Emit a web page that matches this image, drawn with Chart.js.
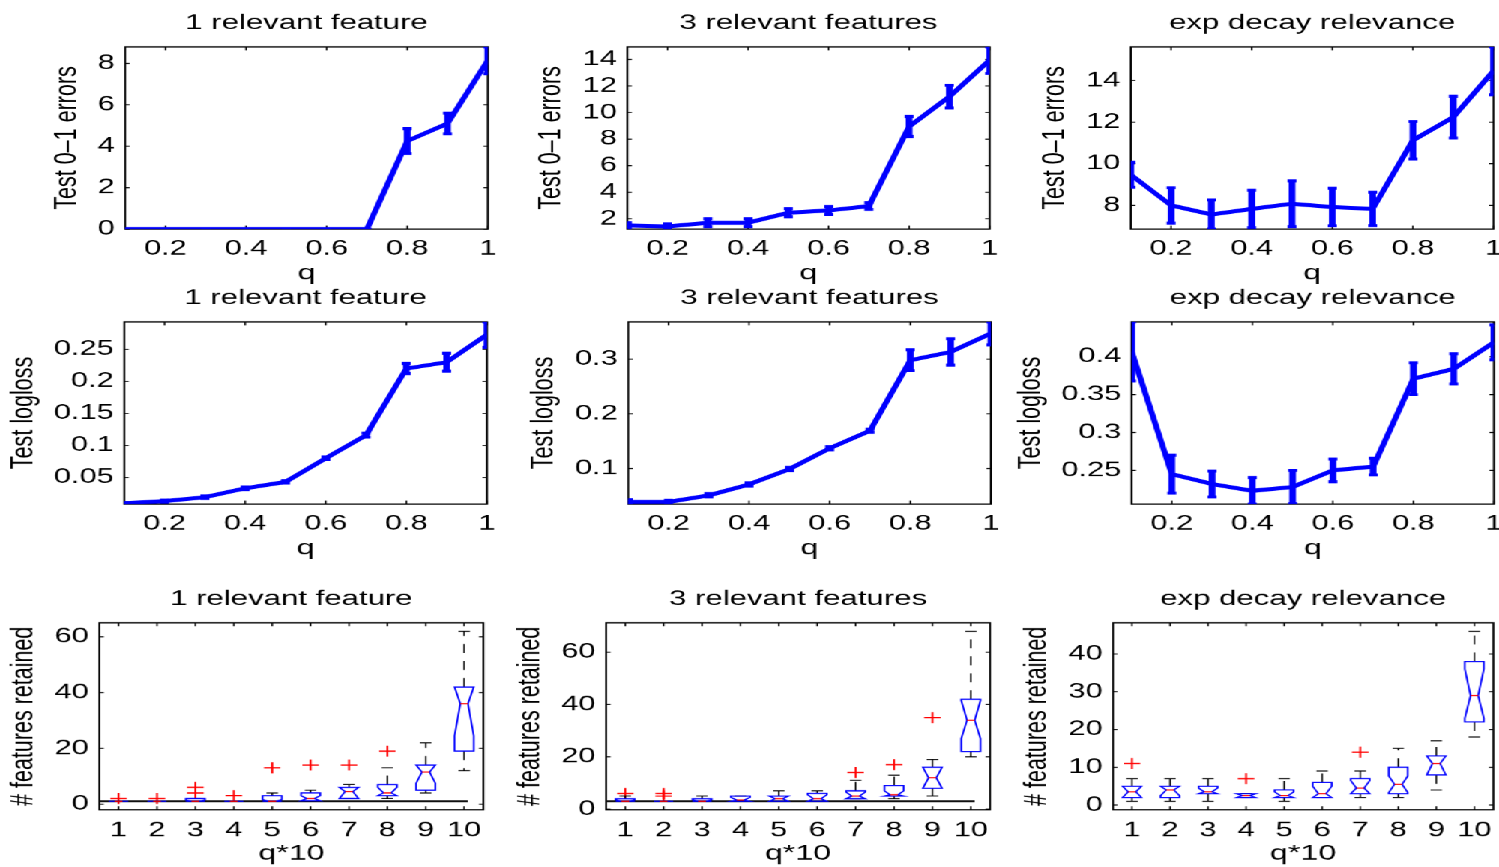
<!DOCTYPE html>
<html>
<head>
<meta charset="utf-8">
<script src="https://cdn.jsdelivr.net/npm/chart.js@4.4.0/dist/chart.umd.min.js"></script>
<style>
  html, body { margin: 0; padding: 0; background: #fff; overflow: hidden; }
  #stage { position: absolute; left: 0; top: 0; width: 1000px; height: 867px; transform-origin: 0 0; transform: scaleX(1.499); }
  #stage canvas { position: absolute; }
</style>
</head>
<body>
<div id="stage"></div>
<script>
// ---- data ----
const qValues = [0.1, 0.2, 0.3, 0.4, 0.5, 0.6, 0.7, 0.8, 0.9, 1.0];
const qTicks = [0.2, 0.4, 0.6, 0.8, 1];

// test 0-1 errors (mean, error bar half length)
const errOneMean = [0, 0, 0, 0, 0, 0, 0, 4.25, 5.1, 8.15];
const errOneSd = [0, 0, 0, 0, 0, 0, 0, 0.6, 0.5, 0.65];
const errThreeMean = [1.5, 1.42, 1.7, 1.7, 2.45, 2.62, 2.95, 8.95, 11.2, 13.95];
const errThreeSd = [0.2, 0.2, 0.3, 0.3, 0.3, 0.3, 0.25, 0.75, 0.85, 1.0];
const errExpMean = [9.47, 8.0, 7.56, 7.83, 8.08, 7.92, 7.83, 11.13, 12.24, 14.47];
const errExpSd = [0.6, 0.85, 0.7, 0.9, 1.1, 0.9, 0.8, 0.9, 1.0, 1.15];
const errOneTicks = [0, 2, 4, 6, 8];
const errThreeTicks = [2, 4, 6, 8, 10, 12, 14];
const errExpTicks = [8, 10, 12, 14];

// test logloss
const lossOneMean = [0.0095, 0.013, 0.019, 0.033, 0.043, 0.080, 0.116, 0.220, 0.230, 0.273];
const lossOneSd = [0.0012, 0.0015, 0.002, 0.002, 0.002, 0.002, 0.003, 0.008, 0.014, 0.02];
const lossThreeMean = [0.039, 0.039, 0.051, 0.071, 0.099, 0.137, 0.169, 0.298, 0.313, 0.347];
const lossThreeSd = [0.004, 0.003, 0.003, 0.003, 0.003, 0.003, 0.003, 0.019, 0.024, 0.021];
const lossExpMean = [0.407, 0.245, 0.232, 0.223, 0.228, 0.250, 0.255, 0.371, 0.384, 0.419];
const lossExpSd = [0.039, 0.025, 0.017, 0.0175, 0.022, 0.015, 0.011, 0.021, 0.02, 0.023];
const lossOneTicks = [0.05, 0.1, 0.15, 0.2, 0.25];
const lossThreeTicks = [0.1, 0.2, 0.3];
const lossExpTicks = [0.25, 0.3, 0.35, 0.4];

// # features retained, box plots at q*10 = 1..10
const boxPos = [1, 2, 3, 4, 5, 6, 7, 8, 9, 10];
const boxTicks = [1, 2, 3, 4, 5, 6, 7, 8, 9, 10];
const trueLineX = [0.5, 10.1];

const oneWhiskLo = [1, 1, 1, 1, 1, 1, 2, 2, 4, 12];
const oneQ1 = [1, 1, 1, 1, 1, 1.2, 2, 3, 5, 19];
const oneNotchLo = [1, 1, 1, 1, 1, 1.2, 2, 3, 7.5, 24.5];
const oneMedian = [1, 1, 1, 1, 1, 2, 4.5, 4, 11.5, 36];
const oneNotchHi = [1, 1, 1.5, 1, 1.6, 3, 6, 6, 14, 42];
const oneQ3 = [1, 1, 2, 1, 3, 4, 6, 7, 14, 42];
const oneWhiskHi = [1, 1, 2, 1, 4, 5, 7, 13, 22, 62];
const oneOutX = [1, 2, 3, 3, 4, 5, 6, 7, 8];
const oneOutY = [2, 2, 4, 6, 3, 13, 14, 14, 19];
const oneTrueLevel = 1;

const threeWhiskLo = [3, 3, 3, 3, 3, 3, 4, 4, 5, 20];
const threeQ1 = [3, 3, 3, 3, 3, 3, 4, 5, 8, 22];
const threeNotchLo = [3, 3, 3, 3, 3, 3, 4, 5, 8, 27];
const threeMedian = [3, 3, 3, 3.5, 4, 4, 5, 5.5, 12, 34];
const threeNotchHi = [3.6, 3, 3.6, 4.5, 5, 5.5, 6.5, 7, 16, 41.5];
const threeQ3 = [4, 3, 4, 5, 5, 6, 7, 9, 16, 42];
const threeWhiskHi = [5, 3, 5, 5, 7, 7, 11, 13, 19, 68];
const threeOutX = [1, 2, 2, 7, 8, 9];
const threeOutY = [6, 5, 6, 14, 17, 35];
const threeTrueLevel = 3;

const expWhiskLo = [1, 1, 1, 2, 1, 2, 2, 2, 4, 18];
const expQ1 = [2, 2, 3, 2, 2, 2, 3, 3, 8, 22];
const expNotchLo = [2, 2.5, 3, 2, 2, 2, 3, 3.3, 8, 23];
const expMedian = [3.5, 4, 3.5, 2.5, 2.5, 3, 4.5, 5.5, 11, 29];
const expNotchHi = [5, 5, 4.5, 3, 3.5, 5, 6.5, 7.7, 13, 36];
const expQ3 = [5, 5, 5, 3, 4, 6, 7, 10, 13, 38];
const expWhiskHi = [7, 7, 7, 3, 7, 9, 9, 15, 17, 46];
const expOutX = [1, 4, 7];
const expOutY = [11, 7, 14];

const featOneTicks = [0, 20, 40, 60];
const featThreeTicks = [0, 20, 40, 60];
const featExpTicks = [0, 10, 20, 30, 40];

// ---- drawing ----
const FONT = '"Liberation Sans", Arial, Helvetica, sans-serif';
const SX = 1.499; // the figure is stretched sideways

// axes box with inward ticks, like matlab
const axesBox = {
  id: 'axesBox',
  beforeDatasetsDraw(chart) {
    const {ctx, chartArea: a, scales: {x, y}} = chart;
    ctx.save();
    ctx.strokeStyle = '#000';
    ctx.lineWidth = 1;
    ctx.beginPath();
    x.ticks.forEach(t => {
      const px = x.getPixelForValue(t.value);
      ctx.moveTo(px, a.bottom); ctx.lineTo(px, a.bottom - 3.5);
      ctx.moveTo(px, a.top); ctx.lineTo(px, a.top + 3.5);
    });
    y.ticks.forEach(t => {
      const py = y.getPixelForValue(t.value);
      ctx.moveTo(a.left, py); ctx.lineTo(a.left + 3, py);
      ctx.moveTo(a.right, py); ctx.lineTo(a.right - 3, py);
    });
    ctx.stroke();
    ctx.lineWidth = 1.3;
    ctx.strokeRect(a.left, a.top, a.right - a.left, a.bottom - a.top);
    ctx.restore();
  }
};

function errorBars(sd) {
  return {
    id: 'errorBars',
    afterDatasetsDraw(chart) {
      const {ctx, chartArea: a, scales: {x, y}} = chart;
      const pts = chart.data.datasets[0].data;
      ctx.save();
      ctx.beginPath();
      ctx.rect(a.left, a.top, a.right - a.left, a.bottom - a.top);
      ctx.clip();
      ctx.strokeStyle = '#0000ff';
      pts.forEach((pt, i) => {
        const px = x.getPixelForValue(pt.x);
        const hi = y.getPixelForValue(pt.y + sd[i]);
        const lo = y.getPixelForValue(pt.y - sd[i]);
        ctx.lineWidth = 4.5;
        ctx.beginPath(); ctx.moveTo(px, hi); ctx.lineTo(px, lo); ctx.stroke();
        ctx.lineWidth = 3;
        ctx.beginPath();
        ctx.moveTo(px - 3, hi); ctx.lineTo(px + 3, hi);
        ctx.moveTo(px - 3, lo); ctx.lineTo(px + 3, lo);
        ctx.stroke();
      });
      ctx.restore();
    }
  };
}

function notchedBoxes(s) {
  return {
    id: 'notchedBoxes',
    afterDatasetsDraw(chart) {
      const {ctx, scales: {x, y}} = chart;
      const X = v => x.getPixelForValue(v), Y = v => y.getPixelForValue(v);
      ctx.save();
      boxPos.forEach((pos, i) => {
        // whiskers
        ctx.strokeStyle = '#000';
        ctx.lineWidth = 1;
        ctx.setLineDash([9, 8]);
        ctx.beginPath();
        ctx.moveTo(X(pos), Y(s.q3[i])); ctx.lineTo(X(pos), Y(s.hi[i]));
        ctx.moveTo(X(pos), Y(s.q1[i])); ctx.lineTo(X(pos), Y(s.lo[i]));
        ctx.stroke();
        ctx.setLineDash([]);
        ctx.beginPath();
        ctx.moveTo(X(pos - 0.15), Y(s.hi[i])); ctx.lineTo(X(pos + 0.15), Y(s.hi[i]));
        ctx.moveTo(X(pos - 0.15), Y(s.lo[i])); ctx.lineTo(X(pos + 0.15), Y(s.lo[i]));
        ctx.stroke();
        // box with notch
        const l = X(pos - 0.25), r = X(pos + 0.25), ml = X(pos - 0.1), mr = X(pos + 0.1);
        ctx.strokeStyle = '#0000ff';
        ctx.lineWidth = 1.2;
        ctx.beginPath();
        ctx.moveTo(l, Y(s.q1[i])); ctx.lineTo(l, Y(s.nlo[i])); ctx.lineTo(ml, Y(s.med[i]));
        ctx.lineTo(l, Y(s.nhi[i])); ctx.lineTo(l, Y(s.q3[i])); ctx.lineTo(r, Y(s.q3[i]));
        ctx.lineTo(r, Y(s.nhi[i])); ctx.lineTo(mr, Y(s.med[i])); ctx.lineTo(r, Y(s.nlo[i]));
        ctx.lineTo(r, Y(s.q1[i]));
        ctx.closePath();
        ctx.stroke();
        ctx.strokeStyle = '#ff0000';
        ctx.beginPath(); ctx.moveTo(ml, Y(s.med[i])); ctx.lineTo(mr, Y(s.med[i])); ctx.stroke();
      });
      ctx.restore();
    }
  };
}

const panels = [
  {kind: 'err', title: '1 relevant feature', yLabel: 'Test 0–1 errors', mean: errOneMean, sd: errOneSd, yTicks: errOneTicks, frame: [125, 487.7, 47, 229], gap: 38.9},
  {kind: 'err', title: '3 relevant features', yLabel: 'Test 0–1 errors', mean: errThreeMean, sd: errThreeSd, yTicks: errThreeTicks, frame: [627.7, 990, 47, 229], gap: 50.9},
  {kind: 'err', title: 'exp decay relevance', yLabel: 'Test 0–1 errors', mean: errExpMean, sd: errExpSd, yTicks: errExpTicks, frame: [1131, 1493.3, 47, 229], gap: 50.7},
  {kind: 'err', title: '1 relevant feature', yLabel: 'Test logloss', mean: lossOneMean, sd: lossOneSd, yTicks: lossOneTicks, frame: [125, 487.7, 322, 504], gap: 67.3},
  {kind: 'err', title: '3 relevant features', yLabel: 'Test logloss', mean: lossThreeMean, sd: lossThreeSd, yTicks: lossThreeTicks, frame: [627.7, 990, 322, 504], gap: 56.4},
  {kind: 'err', title: 'exp decay relevance', yLabel: 'Test logloss', mean: lossExpMean, sd: lossExpSd, yTicks: lossExpTicks, frame: [1131, 1493.3, 322, 504], gap: 67.3},
  {kind: 'box', title: '1 relevant feature', yLabel: '# features retained', yTicks: featOneTicks, frame: [100, 484, 623, 810], gap: 50.7,
   stats: {lo: oneWhiskLo, q1: oneQ1, nlo: oneNotchLo, med: oneMedian, nhi: oneNotchHi, q3: oneQ3, hi: oneWhiskHi}, outX: oneOutX, outY: oneOutY, level: oneTrueLevel},
  {kind: 'box', title: '3 relevant features', yLabel: '# features retained', yTicks: featThreeTicks, frame: [606, 990, 623, 810], gap: 50.7,
   stats: {lo: threeWhiskLo, q1: threeQ1, nlo: threeNotchLo, med: threeMedian, nhi: threeNotchHi, q3: threeQ3, hi: threeWhiskHi}, outX: threeOutX, outY: threeOutY, level: threeTrueLevel},
  {kind: 'box', title: 'exp decay relevance', yLabel: '# features retained', yTicks: featExpTicks, frame: [1113, 1493.3, 623, 810], gap: 50.9,
   stats: {lo: expWhiskLo, q1: expQ1, nlo: expNotchLo, med: expMedian, nhi: expNotchHi, q3: expQ3, hi: expWhiskHi}, outX: expOutX, outY: expOutY, level: null}
];

function buildPanel(p) {
  const [pl, pr, pt, pb] = p.frame;
  const plotW = (pr - pl) / SX, plotH = pb - pt;
  const L = p.gap + 12.6;   // y axis block
  const T = 35.8;           // title block
  const w = Math.ceil(L + plotW + 16);
  const R = w - L - plotW;
  const h = Math.ceil(T + plotH + 57);
  const B = h - T - plotH;

  const cv = document.createElement('canvas');
  cv.width = w; cv.height = h;
  cv.style.left = (pl / SX - L) + 'px';
  cv.style.top = (pt - T) + 'px';
  document.getElementById('stage').appendChild(cv);

  let datasets, extra, xMin, xMax, yMin, yMax, xTicks, xLabel, xPad;
  if (p.kind === 'err') {
    datasets = [{
      data: qValues.map((q, i) => ({x: q, y: p.mean[i]})),
      borderColor: '#0000ff', borderWidth: 4, pointRadius: 0, tension: 0, fill: false
    }];
    extra = errorBars(p.sd);
    xMin = 0.1; xMax = 1;
    yMin = Math.min(...p.mean.map((m, i) => m - p.sd[i]));
    yMax = Math.max(...p.mean.map((m, i) => m + p.sd[i]));
    xTicks = qTicks; xLabel = 'q'; xPad = 7.5;
  } else {
    datasets = [];
    if (p.level !== null) {
      datasets.push({data: trueLineX.map(v => ({x: v, y: p.level})), borderColor: '#111', borderWidth: 2, pointRadius: 0});
    }
    datasets.push({
      data: p.outX.map((v, i) => ({x: v, y: p.outY[i]})), showLine: false,
      pointStyle: 'cross', pointRadius: 5.5, borderColor: '#ff0000', backgroundColor: '#ff0000', borderWidth: 1.3
    });
    extra = notchedBoxes(p.stats);
    const lo = Math.min(...p.stats.lo, ...p.outY), hi = Math.max(...p.stats.hi, ...p.outY);
    const pad = 0.05 * (hi - lo);
    xMin = 0.5; xMax = 10.5;
    yMin = lo - pad; yMax = hi + pad;
    xTicks = boxTicks; xLabel = 'q*10'; xPad = 8.5;
  }

  const tickFont = {family: FONT, size: 20.5};
  const labelFont = {family: FONT, size: 21.5, lineHeight: 1.2};

  new Chart(cv, {
    type: 'line',
    data: {datasets},
    options: {
      responsive: false,
      animation: false,
      devicePixelRatio: 1.5,
      events: [],
      layout: {padding: {left: 0, top: 0, right: R, bottom: 0}},
      plugins: {
        legend: {display: false},
        tooltip: {enabled: false},
        title: {
          display: true, text: p.title, color: '#000', fullSize: false,
          font: {family: FONT, size: 20.8, weight: 'normal', lineHeight: 1.2},
          padding: {top: 0, bottom: T - 24.96}
        }
      },
      scales: {
        x: {
          type: 'linear', min: xMin, max: xMax, bounds: 'data',
          grid: {display: false, drawTicks: false},
          border: {display: false},
          afterBuildTicks: s => { s.ticks = xTicks.map(v => ({value: v})); },
          afterFit: s => { s.height = B; },
          ticks: {padding: xPad, color: '#000', font: tickFont, maxRotation: 0, autoSkip: false, callback: v => String(v)},
          title: {display: true, text: xLabel, color: '#000', font: labelFont, padding: {top: 0, bottom: B - 57}}
        },
        y: {
          type: 'linear', min: yMin, max: yMax, bounds: 'data',
          grid: {display: false, drawTicks: false},
          border: {display: false},
          afterBuildTicks: s => { s.ticks = p.yTicks.map(v => ({value: v})); },
          afterFit: s => { s.width = L; },
          ticks: {padding: 7, color: '#000', font: tickFont, autoSkip: false, callback: v => String(v)},
          title: {display: true, text: p.yLabel, color: '#000', font: labelFont, padding: 0}
        }
      }
    },
    plugins: [axesBox, extra]
  });
}

panels.forEach(buildPanel);
</script>
</body>
</html>
